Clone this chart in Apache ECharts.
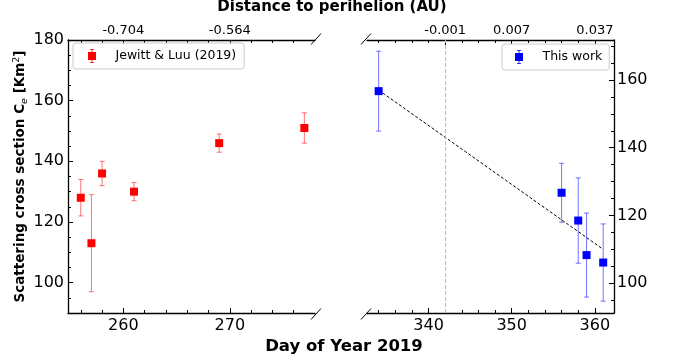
<!DOCTYPE html>
<html><head><meta charset="utf-8">
<script src="https://cdn.jsdelivr.net/npm/echarts@6/dist/echarts.min.js"></script>
<style>html,body{margin:0;padding:0;background:#fff}#c{width:676px;height:363px}</style>
</head><body><div id="c"></div>
<script>
// ---- data ----
const jlDays = [256, 257, 258, 261, 269, 277];
const jlCe   = [128, 113, 136, 130, 146, 151];
const jlErr  = [6, 16, 4, 3, 3, 5];
const twDays = [334, 356, 358, 359, 361];
const twCe   = [156.7, 126.7, 118.5, 108.3, 106.1];
const twErr  = [11.8, 8.7, 12.6, 12.4, 11.4];
const fitDays = [334, 361];
const fitCe   = [157, 110];
const perihelionDay = 342;
// ---- ticks ----
const leftDayTicks  = [260, 270];
const leftDayMinor  = [256, 258, 262, 264, 266, 268, 272, 274, 276];
const rightDayTicks = [340, 350, 360];
const rightDayMinor = [334, 336, 338, 342, 344, 346, 348, 352, 354, 356, 358];
const leftDistTicks  = [260, 270];
const leftDistLabels = ['-0.704', '-0.564'];
const rightDistTicks  = [342, 350, 360];
const rightDistLabels = ['-0.001', '0.007', '0.037'];
const rightDistMinor  = [334, 336, 338, 340, 344, 346, 348, 352, 354, 356, 358];
const leftCeTicks  = [100, 120, 140, 160, 180];
const leftCeMinor  = [95, 105, 110, 115, 125, 130, 135, 145, 150, 155, 165, 170, 175];
const rightCeTicks = [100, 120, 140, 160];
const rightCeMinor = [95, 105, 110, 115, 125, 130, 135, 145, 150, 155, 165, 170];

const FONT = 'DejaVu Sans';
const G0 = {left: 68, top: 40, width: 247, height: 273};
const G1 = {left: 367, top: 40, width: 247, height: 273};
const LX = [254.8, 278], RX = [332.6, 362.3], LY = [90, 180], RY = [91.2, 171.8];

const chart = echarts.init(document.getElementById('c'), null, {renderer: 'canvas'});

function axis(o) {
  const base = {
    type: 'value', min: o.range[0], max: o.range[1], position: o.position, gridIndex: o.grid,
    splitLine: {show: false},
    axisLine: {show: !!o.line, onZero: false, lineStyle: {color: '#000', width: 1.3}},
    axisTick: {show: true, inside: true, length: o.minor ? 3 : 5, customValues: o.ticks,
               lineStyle: {color: '#000', width: 1}},
    axisLabel: o.minor ? {show: false} : {
      show: true, customValues: o.ticks, color: '#000', fontFamily: FONT,
      fontSize: o.fontSize || 16, margin: o.margin || 5,
      formatter: o.fmt || (v => String(v))
    }
  };
  return Object.assign(base, o.extra || {});
}
const mapper = (ticks, labels) => v => { const i = ticks.findIndex(t => Math.abs(t - v) < 1e-6); return i >= 0 ? labels[i] : ''; };

const xAxes = [
  axis({grid: 0, range: LX, position: 'bottom', line: true, ticks: leftDayTicks}),
  axis({grid: 0, range: LX, position: 'bottom', minor: true, ticks: leftDayMinor}),
  axis({grid: 0, range: LX, position: 'top', line: true, ticks: leftDistTicks, fontSize: 13, margin: 3, fmt: mapper(leftDistTicks, leftDistLabels)}),
  axis({grid: 0, range: LX, position: 'top', minor: true, ticks: leftDayMinor}),
  axis({grid: 1, range: RX, position: 'bottom', line: true, ticks: rightDayTicks}),
  axis({grid: 1, range: RX, position: 'bottom', minor: true, ticks: rightDayMinor}),
  axis({grid: 1, range: RX, position: 'top', line: true, ticks: rightDistTicks, fontSize: 13, margin: 3, fmt: mapper(rightDistTicks, rightDistLabels)}),
  axis({grid: 1, range: RX, position: 'top', minor: true, ticks: rightDistMinor})
];
const yAxes = [
  axis({grid: 0, range: LY, position: 'left', line: true, ticks: leftCeTicks, margin: 4, extra: {
    name: '{a|Scattering cross section C}{s|e}{a| [Km}{p|2}{a|]}',
    nameLocation: 'middle', nameRotate: 90, nameGap: 33,
    nameTextStyle: {rich: {
      a: {fontFamily: FONT, fontWeight: 'bold', fontSize: 13.5, color: '#000', lineHeight: 18},
      s: {fontFamily: FONT, fontStyle: 'italic', fontSize: 9.5, color: '#000', lineHeight: 18, verticalAlign: 'bottom'},
      p: {fontFamily: FONT, fontSize: 9.5, color: '#000', lineHeight: 18, verticalAlign: 'top'}
    }}
  }}),
  axis({grid: 0, range: LY, position: 'left', minor: true, ticks: leftCeMinor}),
  axis({grid: 1, range: RY, position: 'right', line: true, ticks: rightCeTicks, margin: 3}),
  axis({grid: 1, range: RY, position: 'right', minor: true, ticks: rightCeMinor})
];

function errRender(color) {
  return function (params, api) {
    const x = api.value(0), y = api.value(1), e = api.value(2);
    const t = api.coord([x, y + e]), b = api.coord([x, y - e]);
    const c = 2.5, st = {stroke: color, lineWidth: 1};
    return {type: 'group', children: [
      {type: 'line', shape: {x1: t[0], y1: t[1], x2: b[0], y2: b[1]}, style: st},
      {type: 'line', shape: {x1: t[0] - c, y1: t[1], x2: t[0] + c, y2: t[1]}, style: st},
      {type: 'line', shape: {x1: b[0] - c, y1: b[1], x2: b[0] + c, y2: b[1]}, style: st}
    ]};
  };
}
const ICON = 'path://M0,3H8V11H0Z M3.6,0H4.4V14H3.6Z M2,0H6V0.7H2Z M2,13.3H6V14H2Z';

const legendBase = {
  orient: 'horizontal', icon: ICON, itemWidth: 25, itemHeight: 14, itemGap: 5,
  borderColor: '#cccccc', borderWidth: 1, borderRadius: 3,
  backgroundColor: 'rgba(255,255,255,0.8)', selectedMode: false,
  formatter: n => '{t|' + n + '}',
  textStyle: {fontFamily: FONT, fontSize: 12.5, color: '#000',
    rich: {t: {fontFamily: FONT, fontSize: 12.5, color: '#000', padding: [0, 0, 0, 6]}}}
};

chart.setOption({
  animation: false,
  backgroundColor: '#fff',
  grid: [G0, G1],
  xAxis: xAxes,
  yAxis: yAxes,
  legend: [
    Object.assign({}, legendBase, {left: 73, top: 43, padding: [6, 8, 6, 15], data: ['Jewitt & Luu (2019)']}),
    Object.assign({}, legendBase, {left: 502, top: 44, padding: [6, 7, 6, 13], data: ['This work']})
  ],
  series: [
    {type: 'custom', xAxisIndex: 0, yAxisIndex: 0, renderItem: errRender('rgba(255,0,0,0.55)'),
     encode: {x: 0, y: 1}, data: jlDays.map((d, i) => [d, jlCe[i], jlErr[i]]), z: 2, silent: true},
    {type: 'scatter', name: 'Jewitt & Luu (2019)', xAxisIndex: 0, yAxisIndex: 0, symbol: 'rect', symbolSize: 8,
     itemStyle: {color: '#ff0000', opacity: 1}, data: jlDays.map((d, i) => [d, jlCe[i]]), z: 3},
    {type: 'line', xAxisIndex: 4, yAxisIndex: 2, symbol: 'none', z: 1, silent: true,
     lineStyle: {color: '#000', width: 1, type: [3, 2]}, data: fitDays.map((d, i) => [d, fitCe[i]]),
     markLine: {silent: true, symbol: 'none', label: {show: false},
       lineStyle: {color: '#b8b8b8', width: 1, type: [4, 2]}, data: [{xAxis: perihelionDay}]}},
    {type: 'custom', xAxisIndex: 4, yAxisIndex: 2, renderItem: errRender('rgba(0,0,255,0.55)'),
     encode: {x: 0, y: 1}, data: twDays.map((d, i) => [d, twCe[i], twErr[i]]), z: 2, silent: true},
    {type: 'scatter', name: 'This work', xAxisIndex: 4, yAxisIndex: 2, symbol: 'rect', symbolSize: 8,
     itemStyle: {color: '#0000ff', opacity: 1}, data: twDays.map((d, i) => [d, twCe[i]]), z: 3}
  ],
  graphic: (function () {
    const r0 = G0.left + G0.width, b = G0.top + G0.height, l1 = G1.left;
    const brk = (cx, cy) => ({type: 'line', shape: {x1: cx - 5, y1: cy + 5.5, x2: cx + 5, y2: cy - 5.5},
      style: {stroke: '#000', lineWidth: 1}, silent: true});
    return [
      brk(r0 + 1, G0.top - 1), brk(r0 + 1, b + 1), brk(l1 - 1, G1.top - 1), brk(l1 - 1, b + 1),
      {type: 'text', x: 332, y: 0, style: {text: 'Distance to perihelion (AU)', textAlign: 'center', textVerticalAlign: 'top',
        font: 'bold 15px "DejaVu Sans"', fill: '#000'}},
      {type: 'text', x: 344, y: 338, style: {text: 'Day of Year 2019', textAlign: 'center', textVerticalAlign: 'top',
        font: 'bold 16.5px "DejaVu Sans"', fill: '#000'}}
    ];
  })()
});
</script>
</body></html>
